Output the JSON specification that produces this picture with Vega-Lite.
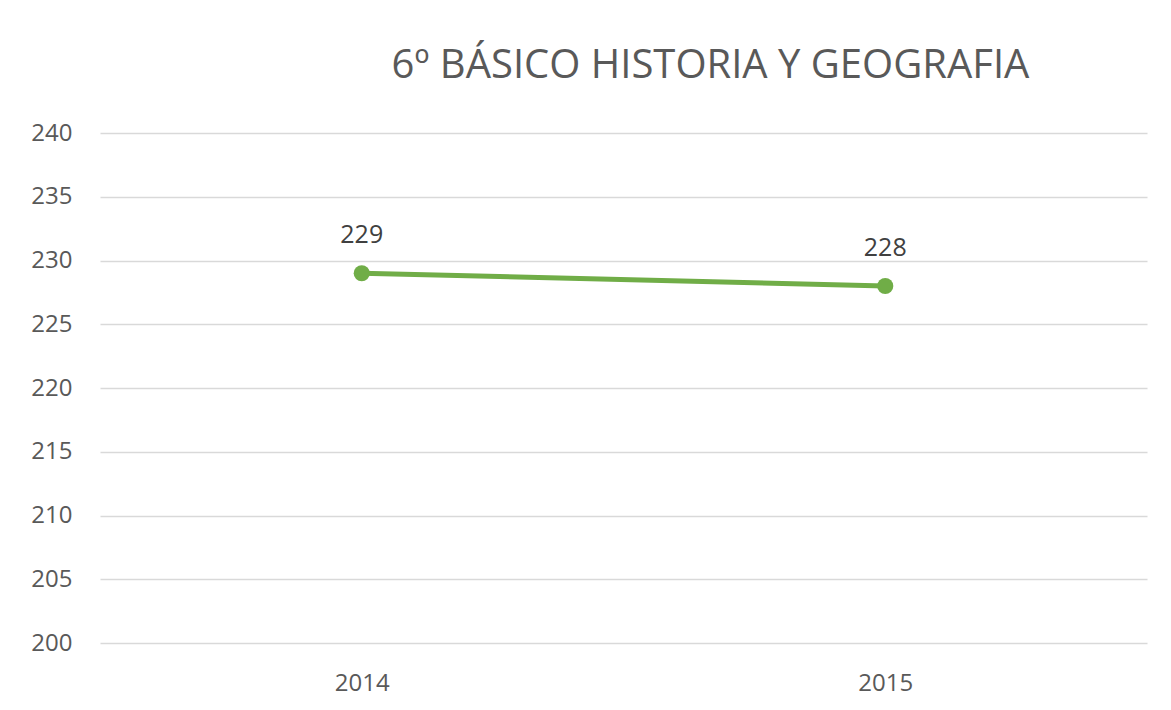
{
  "$schema": "https://vega.github.io/schema/vega-lite/v6.json",
  "autosize": {"type": "none"},
  "width": 1047,
  "height": 510,
  "padding": {"left": 100, "top": 133, "right": 24, "bottom": 67},
  "background": "white",
  "config": {
    "font": "Open Sans",
    "view": {"stroke": null},
    "axis": {"labelColor": "#595959", "labelFontSize": 24, "gridColor": "#d9d9d9", "gridWidth": 1.5, "ticks": false, "domain": false, "title": null}
  },
  "title": {
    "text": "6º BÁSICO HISTORIA Y GEOGRAFIA",
    "fontSize": 40,
    "font": "Open Sans",
    "fontWeight": "normal",
    "color": "#595959",
    "anchor": "middle",
    "dx": 87,
    "baseline": "alphabetic",
    "offset": 3
  },
  "data": {"values": [
    {"year": "2014", "value": 229},
    {"year": "2015", "value": 228}
  ]},
  "encoding": {
    "x": {"field": "year", "type": "ordinal", "scale": {"type": "point", "padding": 0.5}, "axis": {"labelAngle": 0, "labelPadding": 28, "grid": false}},
    "y": {"field": "value", "type": "quantitative", "scale": {"domain": [200, 240], "nice": false, "zero": false}, "axis": {"values": [200, 205, 210, 215, 220, 225, 230, 235, 240], "labelPadding": 28, "grid": true}}
  },
  "layer": [
    {"mark": {"type": "line", "color": "#70AD47", "strokeWidth": 5, "point": {"filled": true, "size": 260, "color": "#70AD47"}}},
    {"mark": {"type": "text", "dy": -38, "fontSize": 25, "color": "#404040"}, "encoding": {"text": {"field": "value", "type": "quantitative"}}}
  ]
}
